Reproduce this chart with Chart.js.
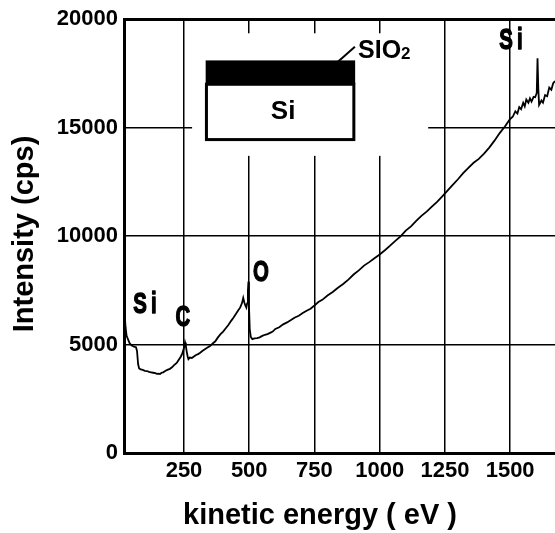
<!DOCTYPE html>
<html lang="en">
<head>
    <meta charset="UTF-8">
    <title>AES spectrum of SiO2 on Si</title>
    <script src="https://cdn.jsdelivr.net/npm/chart.js"></script>
    <style>
        html, body { margin: 0; padding: 0; background: #fff; }
        #spectrum { display: block; }
    </style>
</head>
<body>
    <canvas id="spectrum" width="555" height="533"></canvas>

    <script>
        // kinetic energy (eV) and intensity (cps)
        const energy = [
            20, 23, 26, 30, 35, 42, 50, 58, 66, 70, 74, 78, 84, 92, 100, 108, 116, 124, 132, 140,
            146, 152, 158, 164, 170, 178, 186, 196, 204, 212, 222, 230, 238, 244, 250, 254, 257, 260, 264, 267,
            272, 280, 288, 296, 304, 312, 320, 330, 340, 350, 360, 370, 380, 390, 400, 410, 420, 430, 440, 450,
            458, 465, 472, 477, 481, 485, 489, 492, 495, 497, 499, 502, 506, 512, 520, 530, 540, 550, 560, 570,
            580, 590, 600, 615, 630, 645, 660, 675, 690, 705, 720, 735, 750, 765, 780, 800, 820, 840, 860, 880,
            900, 920, 940, 960, 980, 1000, 1020, 1040, 1060, 1080, 1100, 1120, 1140, 1160, 1180, 1200, 1220, 1240, 1260, 1280,
            1300, 1320, 1340, 1360, 1380, 1400, 1420, 1440, 1460, 1480, 1500, 1510, 1520, 1528, 1535, 1542, 1550, 1556, 1562, 1570,
            1576, 1582, 1590, 1596, 1602, 1605, 1608, 1611, 1620, 1626, 1634, 1642, 1650, 1658, 1665, 1672
        ];
        const intensity = [
            7000, 6300, 5800, 5400, 5250, 5050, 4950, 4900, 4880, 4700, 4100, 3900, 3850, 3830, 3790, 3780, 3740, 3720, 3700, 3680,
            3650, 3660, 3640, 3700, 3720, 3780, 3830, 3880, 3950, 4050, 4150, 4300, 4450, 4600, 4850, 5100, 4950, 4700, 4450, 4330,
            4400, 4380, 4450, 4520, 4560, 4620, 4700, 4780, 4860, 4930, 5050, 5150, 5330, 5480, 5600, 5750, 5900, 6080, 6250, 6430,
            6580, 6700, 6900, 7150, 6950, 6800, 6700, 6900, 7500, 7900, 6800, 5700, 5350, 5250, 5280, 5300, 5330, 5400, 5450, 5480,
            5540, 5600, 5720, 5800, 5930, 6020, 6130, 6250, 6330, 6450, 6560, 6650, 6800, 6960, 7060, 7260, 7420, 7620, 7790, 7990,
            8230, 8420, 8640, 8800, 8980, 9150, 9350, 9560, 9780, 9990, 10250, 10450, 10700, 10930, 11130, 11360, 11580, 11830, 12100, 12360,
            12620, 12900, 13150, 13380, 13560, 13800, 14080, 14400, 14750, 15050, 15400, 15500, 15750, 15650, 15950, 15850, 16150, 15980, 16300, 16150,
            16350, 16200, 16420, 16400, 16600, 18200, 16800, 16050, 16250, 16150, 16500, 16450, 16850, 16750, 17050, 17150
        ];
        const xTicks = [250, 500, 750, 1000, 1250, 1500];
        const yTicks = [0, 5000, 10000, 15000, 20000];

        // peak annotations
        const peakLabels = ['Si', 'C', 'O', 'Si'];
        const peakEnergy = [108, 253, 553, 1511];
        const peakIntensity = [6850, 6250, 8300, 19000];

        const FONT = "'Liberation Sans', Arial, sans-serif";

        const decorations = {
            id: 'decorations',
            beforeDatasetsDraw(chart) {
                const ctx = chart.ctx;
                const xs = chart.scales.x, ys = chart.scales.y;
                const px = v => xs.getPixelForValue(v);
                const py = v => ys.getPixelForValue(v);

                ctx.save();
                // clear the grid behind the inset
                ctx.fillStyle = '#fff';
                ctx.fillRect(px(281), py(19350), px(1186) - px(281), py(13700) - py(19350));

                // SiO2 layer
                ctx.fillStyle = '#000';
                ctx.fillRect(px(333), py(18100), px(906) - px(333), py(17000) - py(18100));
                // Si substrate
                ctx.strokeStyle = '#000';
                ctx.lineWidth = 3;
                ctx.strokeRect(px(336), py(17000), px(901) - px(336), py(14450) - py(17000));

                ctx.fillStyle = '#000';
                ctx.font = 'bold 26px ' + FONT;
                ctx.textAlign = 'center';
                ctx.textBaseline = 'middle';
                ctx.fillText('Si', px(630), py(15720));

                // leader line to the SiO2 label
                ctx.lineWidth = 2;
                ctx.beginPath();
                ctx.moveTo(px(840), py(18040));
                ctx.lineTo(px(905), py(18725));
                ctx.stroke();

                ctx.textAlign = 'left';
                ctx.textBaseline = 'alphabetic';
                ctx.font = 'bold 25px ' + FONT;
                ctx.fillText('SIO', px(917), py(18224));
                const w = ctx.measureText('SIO').width;
                ctx.font = 'bold 17px ' + FONT;
                ctx.fillText('2', px(917) + w, py(18180));
                ctx.restore();
            },
            afterDatasetsDraw(chart) {
                const ctx = chart.ctx;
                const xs = chart.scales.x, ys = chart.scales.y;
                ctx.save();
                ctx.fillStyle = '#000';
                ctx.strokeStyle = '#000';
                ctx.lineWidth = 1.4;
                ctx.lineJoin = 'round';
                ctx.font = 'bold 30px ' + FONT;
                ctx.textAlign = 'center';
                ctx.textBaseline = 'middle';
                ctx.letterSpacing = '6px';
                peakLabels.forEach((label, i) => {
                    ctx.save();
                    ctx.translate(xs.getPixelForValue(peakEnergy[i]), ys.getPixelForValue(peakIntensity[i]));
                    ctx.scale(0.68, 1);
                    ctx.fillText(label, 0, 0);
                    ctx.strokeText(label, 0, 0);
                    ctx.restore();
                });
                ctx.restore();
            },
            afterDraw(chart) {
                const ctx = chart.ctx;
                ctx.save();
                ctx.fillStyle = '#000';
                ctx.font = 'bold 29px ' + FONT;
                ctx.textAlign = 'center';
                ctx.textBaseline = 'alphabetic';
                ctx.fillText('kinetic energy ( eV )', 320, 524);

                ctx.translate(33, 234);
                ctx.rotate(-Math.PI / 2);
                ctx.fillText('Intensity (cps)', 0, 0);
                ctx.restore();
            }
        };

        const tickFont = { family: FONT, size: 22, weight: 'bold' };

        new Chart(document.getElementById('spectrum'), {
            type: 'scatter',
            data: {
                datasets: [{
                    data: energy.map((e, i) => ({ x: e, y: intensity[i] })),
                    showLine: true,
                    borderColor: '#000',
                    borderWidth: 1.8,
                    pointRadius: 0,
                    tension: 0
                }]
            },
            options: {
                responsive: false,
                animation: false,
                layout: { padding: { top: 14, right: 0, left: 0, bottom: 0 } },
                plugins: {
                    legend: { display: false },
                    tooltip: { enabled: false }
                },
                scales: {
                    x: {
                        type: 'linear',
                        min: 20,
                        max: 1672,
                        afterBuildTicks: scale => { scale.ticks = xTicks.map(v => ({ value: v })); },
                        afterFit: scale => { scale.height = 80; },
                        grid: { color: '#000', lineWidth: 1.5, drawTicks: false },
                        border: { display: true, color: '#000', width: 3 },
                        ticks: {
                            color: '#000',
                            padding: 5,
                            maxRotation: 0,
                            font: tickFont,
                            callback: v => String(v)
                        }
                    },
                    y: {
                        min: 0,
                        max: 20000,
                        afterBuildTicks: scale => { scale.ticks = yTicks.map(v => ({ value: v })); },
                        afterFit: scale => { scale.width = 124; },
                        grid: {
                            color: '#000',
                            lineWidth: c => (c.tick && c.tick.value === 20000 ? 3 : 1.5),
                            drawTicks: false
                        },
                        border: { display: true, color: '#000', width: 3 },
                        ticks: {
                            color: '#000',
                            padding: 6,
                            font: tickFont,
                            callback: v => String(v)
                        }
                    }
                }
            },
            plugins: [decorations]
        });
    </script>
</body>
</html>
